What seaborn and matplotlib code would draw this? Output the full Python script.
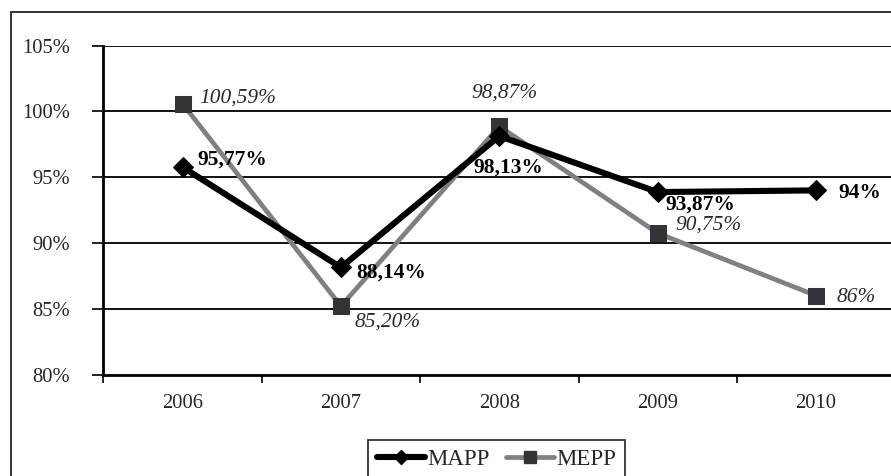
import matplotlib
matplotlib.use("Agg")
import matplotlib.pyplot as plt
from matplotlib.lines import Line2D
from matplotlib.patches import Rectangle
from matplotlib.ticker import FixedLocator, NullFormatter, FixedFormatter
import seaborn as sns
import pandas as pd

years = ["2006", "2007", "2008", "2009", "2010"]
mapp = [95.77, 88.14, 98.13, 93.87, 94.0]
mepp = [100.59, 85.20, 98.87, 90.75, 86.0]
mapp_labels = ["95,77%", "88,14%", "98,13%", "93,87%", "94%"]
mepp_labels = ["100,59%", "85,20%", "98,87%", "90,75%", "86%"]
y_ticks = [80, 85, 90, 95, 100, 105]

sns.set_theme(style="white")
plt.rcParams["font.family"] = ["Liberation Serif", "DejaVu Serif"]
plt.rcParams["font.size"] = 14.8

W, H = 891, 476
fig = plt.figure(figsize=(W / 100, H / 100), dpi=100)

# outer chart frame, running off the right and bottom edges
fig.patches.append(Rectangle((10.5 / W, -0.1), 1.2, 1 - 11.5 / H + 0.1,
                             transform=fig.transFigure, fill=False,
                             edgecolor="#222222", linewidth=1.3))

left, right = 103.3 / W, 895.3 / W
bottom, top = 1 - 374.5 / H, 1 - 45.7 / H
ax = fig.add_axes([left, bottom, right - left, top - bottom])
ax.set_facecolor("none")

pos = list(range(len(years)))
df = pd.DataFrame({
    "pos": pos * 2,
    "val": mapp + mepp,
    "series": ["MAPP"] * len(years) + ["MEPP"] * len(years),
})

sns.lineplot(data=df[df.series == "MAPP"], x="pos", y="val", ax=ax,
             color="black", linewidth=4.4, marker="D", markersize=10,
             markerfacecolor="black", markeredgecolor="black", zorder=4,
             legend=False)
sns.lineplot(data=df[df.series == "MEPP"], x="pos", y="val", ax=ax,
             color="#808080", linewidth=3.4, marker="s", markersize=11.5,
             markerfacecolor="#333338", markeredgecolor="#333338", zorder=3,
             legend=False)

ax.set_xlim(-0.5, len(years) - 0.5)
ax.set_ylim(80, 105)
ax.set_xlabel("")
ax.set_ylabel("")

# y axis: percentage ticks and horizontal grid
ax.set_yticks(y_ticks)
ax.set_yticklabels([f"{v}%" for v in y_ticks])
for v in y_ticks[1:]:
    ax.axhline(v, color="#111111", linewidth=1.4, zorder=1)
ax.tick_params(axis="y", direction="out", length=8, width=1.2,
               color="black", pad=16, labelsize=14.8, left=True)

# x axis: ticks between categories, labels centred under each category
ax.xaxis.set_major_locator(FixedLocator([p - 0.5 for p in pos] + [len(years) - 0.5]))
ax.xaxis.set_major_formatter(NullFormatter())
ax.xaxis.set_minor_locator(FixedLocator(pos))
ax.xaxis.set_minor_formatter(FixedFormatter(years))
ax.tick_params(axis="x", which="major", direction="out", length=6, width=1.2,
               color="black", bottom=True)
ax.tick_params(axis="x", which="minor", length=0, pad=14, labelsize=14.8)

for side in ["top", "right"]:
    ax.spines[side].set_visible(False)
for side in ["left", "bottom"]:
    ax.spines[side].set_color("black")
    ax.spines[side].set_linewidth(2.0)

# value labels
mapp_off = [(15, 7, "left"), (15, -5, "left"), (9, -32, "center"), (8, -13, "left"), (22, -3, "left")]
mepp_off = [(17, 6, "left"), (14, -16, "left"), (5, 33, "center"), (18, 8, "left"), (20, -2, "left")]
for p, v, t, (dx, dy, ha) in zip(pos, mapp, mapp_labels, mapp_off):
    ax.annotate(t, (p, v), xytext=(dx, dy), textcoords="offset pixels",
                ha=ha, va="center", fontsize=15.4, fontweight="bold",
                color="black", zorder=6)
for p, v, t, (dx, dy, ha) in zip(pos, mepp, mepp_labels, mepp_off):
    ax.annotate(t, (p, v), xytext=(dx, dy), textcoords="offset pixels",
                ha=ha, va="center", fontsize=15.4, fontstyle="italic",
                color="#2a2a2a", zorder=6)

handles = [
    Line2D([], [], color="black", linewidth=4.4, marker="D", markersize=7,
           markerfacecolor="black", markeredgecolor="black"),
    Line2D([], [], color="#808080", linewidth=3.4, marker="s", markersize=9,
           markerfacecolor="#333338", markeredgecolor="#333338"),
]
leg = fig.legend(handles, ["MAPP", "MEPP"], loc="upper left",
                 bbox_to_anchor=(368 / W, 1 - 440 / H), ncol=2,
                 frameon=True, fancybox=False, fontsize=16.5,
                 handlelength=2.1, handletextpad=0.1, columnspacing=0.7,
                 borderpad=0.4, borderaxespad=0)
leg.get_frame().set_edgecolor("black")
leg.get_frame().set_linewidth(1.3)

fig.savefig("out.png", dpi=100)
